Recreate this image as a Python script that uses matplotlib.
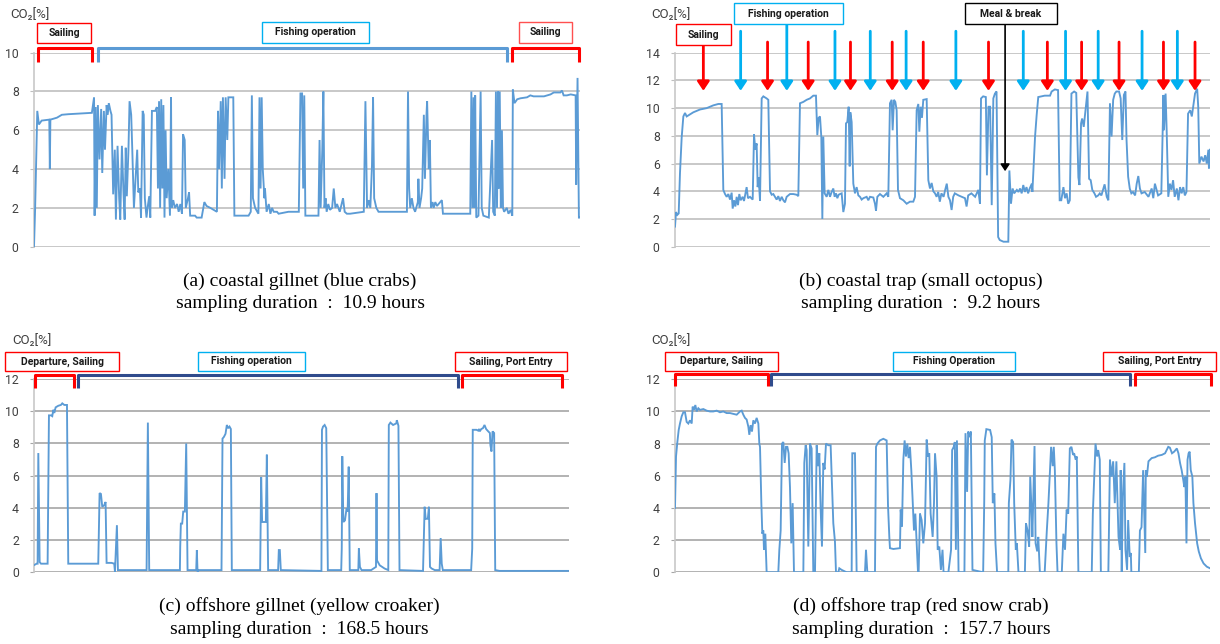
import matplotlib
matplotlib.use("Agg")
import matplotlib.pyplot as plt
from matplotlib.patches import Rectangle

# elapsed time in % of the sampling duration, CO2 in %
a_pts = [(0, 0.0), (0.2, 1.9), (0.6, 7.0), (0.9, 6.3), (1.4, 6.5), (2.8, 6.55), (2.9, 4.0), (3.0, 6.55),
         (4.2, 6.65), (5.1, 6.8), (6.3, 6.83), (10.6, 6.9), (11.0, 7.7), (11.1, 1.6), (11.3, 7.2), (11.5, 2.0),
         (11.7, 7.3), (12.0, 4.5), (12.3, 7.1), (12.5, 3.8), (12.8, 7.0), (13.0, 5.0), (13.3, 7.3), (13.5, 6.8),
         (13.7, 7.4), (14.0, 7.0), (14.2, 6.8), (14.5, 2.7), (14.8, 5.0), (15.0, 1.4), (15.3, 5.2), (15.6, 2.5),
         (15.8, 1.4), (16.1, 5.2), (16.4, 2.7), (16.6, 1.4), (16.8, 5.1), (17.0, 2.6), (17.3, 5.0), (17.5, 7.5),
         (17.8, 6.8), (18.0, 5.0), (18.3, 2.0), (18.5, 3.0), (18.9, 5.0), (19.1, 2.8), (19.4, 3.0), (19.6, 1.5),
         (19.9, 7.0), (20.1, 6.8), (20.3, 2.5), (20.6, 1.5), (20.8, 2.0), (21.1, 2.6), (21.3, 1.5), (21.6, 7.0),
         (22.2, 7.0), (22.5, 7.2), (22.7, 3.0), (22.9, 7.5), (23.1, 2.0), (23.3, 7.6), (23.5, 3.0), (23.7, 7.3),
         (23.9, 1.5), (24.1, 6.0), (24.3, 2.5), (24.6, 4.0), (24.9, 1.6), (25.1, 7.7), (25.2, 2.0), (25.5, 2.4),
         (25.8, 2.0), (26.2, 2.2), (26.5, 1.8), (26.8, 2.2), (27.1, 1.7), (27.3, 5.8), (27.6, 5.5), (27.8, 2.0),
         (28.2, 2.5), (28.4, 2.8), (28.6, 1.6), (29.5, 1.6), (29.8, 1.5), (30.7, 1.5), (31.2, 2.3), (31.6, 2.1),
         (32.3, 2.0), (32.9, 1.9), (33.5, 1.8), (33.7, 7.0), (33.9, 4.0), (34.2, 7.5), (34.4, 3.0), (34.6, 7.7),
         (34.9, 3.5), (35.1, 7.7), (35.4, 5.5), (35.6, 7.7), (36.2, 7.7), (36.5, 7.7), (36.7, 1.6), (39.3, 1.6),
         (39.7, 1.8), (39.9, 7.8), (40.1, 2.5), (40.5, 2.0), (41.1, 1.7), (41.3, 7.7), (41.5, 3.0), (41.7, 7.7),
         (41.9, 4.0), (42.2, 2.5), (42.3, 3.0), (42.6, 1.8), (43.0, 2.2), (43.3, 1.7), (43.6, 2.0), (43.9, 1.8),
         (44.5, 1.8), (44.8, 1.7), (46.6, 1.8), (48.5, 1.8), (48.8, 7.9), (49.1, 7.9), (49.3, 3.0), (49.5, 7.8),
         (49.7, 1.6), (52.1, 1.6), (52.3, 5.5), (52.5, 2.0), (52.8, 5.0), (53.0, 8.0), (53.2, 2.0), (53.4, 2.5),
         (53.6, 1.8), (53.9, 2.2), (54.2, 1.9), (54.6, 2.0), (54.9, 3.0), (55.2, 2.0), (55.5, 2.2), (56.0, 1.8),
         (56.6, 2.5), (56.9, 1.8), (57.3, 1.7), (57.9, 1.7), (60.4, 1.8), (60.7, 7.5), (61.0, 2.0), (61.3, 2.4),
         (61.6, 2.0), (61.9, 4.2), (62.1, 7.7), (62.3, 2.5), (62.7, 2.0), (63.1, 1.8), (68.3, 1.8), (68.5, 8.0),
         (68.7, 3.0), (68.9, 2.0), (69.2, 2.5), (69.5, 2.0), (69.8, 1.8), (70.3, 2.3), (70.4, 3.5), (70.6, 2.0),
         (70.9, 2.5), (71.1, 3.0), (71.4, 6.8), (71.6, 3.5), (71.9, 6.9), (72.0, 7.5), (72.3, 4.0), (72.5, 5.5),
         (72.7, 2.0), (73.0, 2.3), (73.2, 2.0), (73.5, 2.3), (73.8, 2.1), (74.1, 2.2), (74.4, 2.3), (74.7, 2.4),
         (74.9, 1.7), (79.9, 1.7), (80.1, 8.0), (80.3, 2.0), (80.5, 7.7), (80.7, 2.0), (80.8, 7.8), (81.0, 1.5),
         (81.4, 1.6), (81.8, 8.0), (82.0, 2.0), (82.3, 1.6), (83.3, 1.5), (83.9, 5.5), (84.1, 1.8), (84.4, 1.6),
         (84.6, 8.0), (84.8, 2.0), (85.0, 8.0), (85.1, 3.0), (85.3, 8.0), (85.5, 2.0), (85.7, 6.0), (85.9, 2.0),
         (86.1, 1.8), (86.6, 2.0), (86.9, 1.7), (87.3, 1.9), (87.6, 1.6), (87.7, 8.1), (88.0, 7.4), (88.5, 7.6),
         (89.1, 7.65), (90.3, 7.7), (90.9, 7.8), (91.5, 7.75), (93.4, 7.75), (94.6, 7.85), (95.2, 7.95), (96.4, 7.95),
         (96.7, 8.05), (97.0, 7.8), (97.6, 7.8), (98.3, 7.85), (99.2, 7.8), (99.3, 3.2), (99.55, 8.7), (99.8, 1.5),
         (100.0, 1.5)]

b_pts = [(0, 1.45), (0.19, 2.5), (0.44, 2.3), (0.69, 2.4), (0.93, 5.3), (1.25, 7.9), (1.56, 9.4), (1.87, 9.65),
         (2.18, 9.4), (2.8, 9.55), (3.43, 9.7), (4.67, 9.9), (5.92, 10.0), (7.16, 10.2), (8.1, 10.3), (8.72, 10.3),
         (9.03, 4.1), (9.35, 3.8), (9.66, 3.6), (9.97, 3.8), (10.28, 3.4), (10.59, 3.9), (10.78, 2.75), (11.03, 3.35),
         (11.28, 2.9), (11.53, 3.6), (11.77, 3.0), (12.02, 3.8), (12.27, 3.35), (12.65, 3.6), (12.9, 3.3), (13.15, 3.8),
         (13.39, 4.3), (13.64, 3.5), (14.02, 3.6), (14.52, 3.4), (14.77, 8.1), (15.01, 7.0), (15.26, 7.45), (15.45, 4.3),
         (15.64, 5.0), (15.89, 3.3), (16.2, 10.7), (16.51, 10.85), (17.13, 10.7), (17.44, 10.6), (17.76, 4.0),
         (18.07, 3.75), (18.38, 3.8), (18.69, 3.6), (19.0, 3.4), (19.31, 3.65), (19.62, 3.3), (19.94, 3.6),
         (20.25, 3.35), (20.56, 3.2), (20.87, 3.6), (21.49, 3.8), (22.12, 3.8), (22.74, 3.75), (23.05, 3.65),
         (23.36, 10.35), (23.99, 10.45), (24.61, 10.6), (25.23, 10.7), (25.85, 10.9), (26.35, 10.9), (26.6, 8.05),
         (26.85, 9.3), (27.1, 9.4), (27.35, 7.9), (27.54, 2.0), (27.72, 7.95), (27.97, 3.85), (28.35, 3.6),
         (28.66, 4.1), (28.97, 3.6), (29.28, 3.95), (29.59, 4.2), (29.84, 3.6), (30.09, 3.85), (30.34, 3.5),
         (30.59, 3.75), (30.84, 3.8), (31.15, 3.85), (31.46, 2.5), (31.77, 3.1), (31.96, 8.9), (32.21, 9.0),
         (32.46, 10.1), (32.65, 5.8), (32.77, 9.7), (33.02, 9.0), (33.33, 4.55), (33.64, 3.85), (33.95, 4.3),
         (34.27, 3.7), (34.58, 3.6), (34.89, 3.4), (35.2, 3.5), (35.82, 3.6), (36.13, 3.35), (36.45, 3.6),
         (37.07, 3.55), (37.38, 3.1), (37.57, 2.6), (37.82, 3.6), (38.31, 3.8), (38.94, 3.6), (39.56, 3.85),
         (39.87, 3.6), (40.18, 10.35), (40.5, 10.6), (40.68, 8.4), (40.93, 10.6), (41.18, 10.45), (41.43, 9.85),
         (41.68, 4.1), (42.05, 3.5), (42.68, 3.35), (43.3, 3.1), (43.92, 3.25), (44.54, 3.25), (44.86, 3.6),
         (45.17, 9.85), (45.48, 10.3), (45.67, 8.3), (45.92, 10.1), (46.16, 9.3), (46.41, 10.6), (47.04, 10.65),
         (47.35, 4.8), (47.66, 4.2), (47.97, 4.6), (48.28, 4.0), (48.6, 3.85), (48.9, 3.6), (49.2, 3.95), (49.5, 3.25),
         (49.8, 3.85), (50.2, 3.6), (50.5, 4.1), (50.8, 4.55), (51.1, 3.6), (51.4, 3.35), (51.7, 2.65), (52.0, 3.6),
         (52.3, 3.85), (53.0, 3.7), (53.6, 3.6), (54.2, 3.5), (54.5, 2.9), (54.8, 3.7), (55.4, 3.85), (56.1, 3.6),
         (56.7, 4.1), (57.0, 3.1), (57.2, 10.7), (57.6, 10.85), (58.1, 10.8), (58.3, 5.15), (58.6, 10.1), (58.9, 10.1),
         (59.2, 3.0), (59.5, 10.7), (59.8, 11.05), (60.1, 11.2), (60.4, 0.7), (60.7, 0.48), (61.4, 0.36), (62.3, 0.36),
         (62.5, 5.5), (62.8, 3.1), (63.1, 4.2), (63.4, 3.85), (63.9, 4.1), (64.2, 3.95), (64.5, 4.2), (64.8, 3.85),
         (65.1, 4.45), (65.4, 3.95), (65.7, 4.3), (66.0, 3.85), (66.3, 4.2), (66.7, 4.55), (66.8, 3.95), (67.3, 7.95),
         (67.6, 9.5), (67.9, 10.8), (68.5, 10.85), (69.1, 10.9), (70.1, 10.9), (70.4, 11.2), (71.0, 11.35),
         (71.6, 11.3), (71.9, 3.35), (72.2, 3.35), (72.6, 4.3), (72.9, 3.5), (73.2, 3.85), (73.5, 3.1), (73.8, 3.35),
         (74.1, 11.05), (74.6, 11.2), (75.0, 11.1), (75.4, 5.0), (75.6, 4.45), (75.9, 8.9), (76.1, 9.25), (76.4, 8.65),
         (76.6, 9.4), (77.0, 10.95), (77.1, 11.2), (77.4, 4.9), (77.7, 4.8), (78.0, 4.1), (78.4, 3.85), (78.7, 3.6),
         (79.1, 3.7), (79.4, 3.85), (79.7, 3.7), (80.3, 4.5), (80.7, 3.6), (81.0, 3.35), (81.3, 10.35), (81.6, 7.95),
         (81.9, 10.6), (82.2, 11.05), (82.5, 11.2), (83.0, 11.2), (83.3, 10.7), (83.6, 7.7), (83.9, 10.95),
         (84.2, 11.2), (84.4, 7.7), (84.7, 5.05), (85.0, 4.2), (85.3, 3.85), (85.6, 3.95), (86.0, 3.7), (86.3, 4.55),
         (86.6, 5.1), (86.9, 4.2), (87.2, 3.85), (87.8, 3.95), (88.5, 3.6), (89.1, 4.2), (89.4, 3.5), (89.7, 4.55),
         (90.3, 3.7), (90.9, 3.85), (91.3, 10.95), (91.4, 8.4), (91.7, 11.05), (91.9, 8.4), (92.2, 3.6), (92.5, 4.55),
         (92.8, 4.1), (93.1, 4.8), (93.4, 3.6), (93.8, 4.2), (94.1, 3.35), (94.4, 4.3), (94.7, 3.85), (95.0, 4.3),
         (95.3, 3.7), (95.6, 3.95), (95.9, 9.6), (96.3, 9.85), (96.6, 9.4), (96.9, 10.2), (97.2, 11.05), (97.6, 11.4),
         (97.8, 10.1), (98.0, 6.0), (98.4, 6.5), (98.8, 6.15), (99.1, 6.6), (99.4, 6.0), (99.7, 7.0), (99.8, 5.65),
         (100.0, 7.0)]

c_pts = [(0, 0.42), (0.44, 0.5), (0.62, 0.5), (0.75, 7.4), (1.0, 0.6), (1.25, 0.5), (2.49, 0.5), (2.74, 9.75),
         (3.12, 9.75), (3.36, 9.7), (3.55, 10.1), (3.74, 9.9), (3.99, 10.25), (4.49, 10.35), (4.98, 10.4),
         (5.23, 10.5), (5.61, 10.4), (6.11, 10.4), (6.35, 0.5), (11.96, 0.5), (12.21, 4.9), (12.46, 4.85),
         (12.71, 4.05), (13.08, 4.15), (13.33, 4.35), (13.52, 0.55), (14.45, 0.55), (14.95, 0.5), (15.08, 0.0),
         (15.45, 2.9), (15.64, 0.1), (21.0, 0.1), (21.24, 9.3), (21.49, 0.1), (27.23, 0.1), (27.29, 1.55),
         (27.41, 3.0), (27.66, 3.0), (27.85, 3.75), (28.16, 3.75), (28.41, 8.0), (28.66, 0.1), (30.28, 0.1),
         (30.4, 1.35), (30.53, 0.0), (30.78, 0.1), (35.01, 0.1), (35.2, 8.3), (35.45, 8.4), (35.76, 8.6),
         (36.01, 9.15), (36.26, 8.95), (36.51, 9.05), (36.76, 8.9), (36.94, 0.1), (42.24, 0.1), (42.43, 5.9),
         (42.61, 3.1), (43.3, 3.1), (43.49, 7.3), (43.73, 0.1), (45.6, 0.1), (45.73, 1.35), (45.92, 1.35),
         (46.1, 0.1), (53.7, 0.05), (53.8, 8.85), (54.0, 9.05), (54.3, 9.15), (54.6, 8.95), (54.9, 0.1), (57.4, 0.1),
         (57.5, 1.45), (57.6, 7.2), (57.8, 3.1), (58.1, 3.2), (58.4, 3.95), (58.6, 3.75), (58.8, 6.55), (59.0, 0.1),
         (60.6, 0.1), (60.7, 1.45), (60.9, 0.3), (61.2, 0.1), (63.0, 0.1), (63.9, 0.3), (64.0, 4.9), (64.1, 0.7),
         (64.6, 0.4), (65.5, 0.2), (66.2, 0.1), (66.3, 9.15), (66.6, 9.3), (67.1, 9.15), (67.7, 9.25), (67.8, 9.45),
         (68.1, 9.1), (68.3, 0.1), (72.7, 0.05), (73.0, 4.05), (73.2, 3.3), (73.6, 3.3), (73.8, 4.05), (74.0, 0.3),
         (74.3, 0.2), (74.9, 0.1), (75.8, 0.1), (76.0, 2.1), (76.2, 0.5), (76.4, 0.1), (81.7, 0.1), (81.9, 1.45),
         (82.0, 8.85), (82.7, 8.85), (83.0, 8.8), (83.2, 8.9), (83.3, 8.75), (83.6, 8.9), (83.9, 8.95), (84.2, 9.15),
         (84.5, 8.9), (84.9, 8.75), (85.2, 8.65), (85.3, 7.9), (85.5, 7.5), (85.7, 8.75), (86.0, 8.65), (86.2, 0.1),
         (87.0, 0.05), (100.0, 0.05)]

d_pts = [(0, 4.0), (0.19, 7.2), (0.44, 8.1), (0.69, 8.85), (0.93, 9.25), (1.25, 9.7), (1.56, 9.95), (1.87, 9.95),
         (2.18, 9.35), (2.49, 9.25), (2.8, 9.45), (3.12, 9.25), (3.3, 10.3), (3.55, 10.1), (3.8, 10.4), (4.05, 10.0),
         (4.36, 10.2), (4.67, 10.1), (5.3, 10.15), (5.92, 10.05), (6.54, 10.0), (7.16, 10.0), (7.79, 10.05),
         (8.41, 9.95), (9.03, 10.0), (9.66, 9.9), (10.28, 9.9), (10.9, 9.85), (11.53, 9.8), (12.15, 10.0),
         (12.46, 10.05), (12.77, 9.8), (13.08, 9.6), (13.39, 9.5), (13.71, 9.05), (13.89, 8.55), (14.14, 9.15),
         (14.39, 8.75), (14.64, 9.45), (14.95, 9.25), (15.26, 9.6), (15.58, 9.25), (15.76, 8.0), (15.89, 7.8),
         (16.14, 4.3), (16.32, 2.4), (16.51, 2.6), (16.63, 1.4), (16.88, 2.4), (17.13, 0.0), (19.31, 0.0),
         (19.5, 1.4), (19.75, 2.6), (20.0, 8.0), (20.25, 8.1), (20.5, 6.8), (20.75, 7.8), (21.0, 7.8), (21.24, 7.4),
         (21.49, 5.3), (21.74, 1.8), (21.99, 4.3), (22.24, 0.0), (23.99, 0.0), (24.17, 6.8), (24.42, 7.9),
         (24.61, 7.6), (24.92, 1.6), (25.23, 8.0), (25.54, 7.7), (25.85, 0.0), (26.17, 0.0), (26.48, 7.9),
         (26.73, 6.6), (26.98, 7.4), (27.23, 3.9), (27.47, 1.6), (27.72, 6.8), (27.97, 6.4), (28.22, 8.0),
         (28.66, 7.9), (29.09, 7.9), (29.28, 6.0), (29.59, 3.05), (29.9, 1.9), (30.09, 0.0), (30.53, 0.0),
         (30.71, 0.25), (31.15, 0.15), (32.08, 0.0), (33.02, 0.0), (33.14, 7.4), (33.64, 7.4), (33.95, 0.0),
         (35.51, 0.0), (35.7, 1.4), (35.95, 0.0), (37.38, 0.0), (37.57, 7.8), (37.82, 8.0), (38.07, 8.1),
         (38.31, 8.2), (38.94, 8.3), (39.56, 8.2), (39.81, 4.2), (40.06, 2.2), (40.18, 1.5), (40.81, 1.45),
         (42.05, 1.5), (42.18, 3.9), (42.43, 2.85), (42.68, 7.0), (42.92, 8.2), (43.17, 7.2), (43.42, 8.0),
         (43.67, 7.1), (43.92, 7.8), (44.17, 6.35), (44.42, 4.5), (44.67, 2.6), (44.92, 3.65), (45.17, 1.8),
         (45.42, 0.0), (45.54, 0.0), (45.79, 3.65), (46.1, 3.25), (46.41, 1.8), (46.73, 3.05), (47.04, 8.25),
         (47.29, 7.2), (47.53, 7.4), (47.78, 3.65), (48.16, 2.2), (48.41, 4.3), (48.6, 7.4), (48.9, 5.95),
         (49.1, 1.4), (49.4, 1.6), (49.7, 0.15), (50.0, 1.4), (50.2, 0.0), (51.1, 0.0), (51.6, 1.4), (51.8, 7.6),
         (52.1, 7.8), (52.3, 8.1), (52.5, 1.4), (52.7, 8.2), (53.0, 0.0), (54.1, 0.0), (54.3, 8.65), (54.6, 5.0),
         (54.8, 8.75), (55.1, 8.4), (55.3, 8.75), (55.6, 0.15), (57.6, 0.0), (57.8, 4.4), (57.9, 8.2), (58.2, 8.9),
         (58.9, 8.85), (59.2, 8.4), (59.4, 4.3), (59.7, 4.9), (59.9, 1.8), (60.2, 0.0), (62.3, 0.0), (62.4, 4.3),
         (62.7, 5.75), (62.9, 8.25), (63.2, 8.1), (63.4, 4.3), (63.7, 1.4), (63.9, 1.8), (64.2, 0.0), (65.4, 0.0),
         (65.6, 3.05), (65.9, 2.6), (66.2, 1.6), (66.4, 5.95), (66.7, 3.35), (66.8, 2.2), (67.2, 7.85), (67.4, 1.8),
         (67.7, 1.3), (67.9, 2.2), (68.2, 0.0), (69.1, 0.0), (69.5, 2.6), (69.8, 4.3), (70.1, 6.35), (70.3, 7.8),
         (70.6, 6.6), (70.8, 7.8), (71.0, 6.35), (71.3, 1.8), (71.5, 0.0), (72.3, 0.0), (72.6, 2.4), (72.9, 1.4),
         (73.2, 3.9), (73.5, 3.65), (73.8, 7.7), (74.1, 7.8), (74.4, 7.3), (74.6, 7.4), (74.9, 7.0), (75.1, 7.2),
         (75.4, 0.0), (77.9, 0.0), (78.1, 3.65), (78.4, 6.35), (78.6, 8.0), (78.9, 7.2), (79.1, 7.6), (79.4, 7.0),
         (79.6, 0.0), (81.0, 0.0), (81.3, 7.0), (81.6, 5.95), (81.9, 6.9), (82.2, 4.3), (82.5, 6.9), (82.9, 2.2),
         (83.2, 1.4), (83.3, 6.35), (83.5, 0.0), (83.7, 4.7), (84.0, 6.8), (84.2, 1.4), (84.5, 0.15), (84.7, 3.25),
         (85.0, 0.95), (85.2, 1.2), (85.3, 0.0), (86.7, 0.0), (86.9, 2.6), (87.2, 2.8), (87.5, 6.35), (87.9, 1.2),
         (88.0, 6.35), (88.2, 5.95), (88.5, 6.9), (89.1, 7.1), (89.7, 7.15), (90.3, 7.25), (91.0, 7.3), (91.6, 7.4),
         (92.2, 7.8), (92.5, 7.75), (92.9, 7.4), (93.3, 7.5), (93.8, 7.7), (94.1, 7.4), (94.4, 6.8), (94.7, 6.35),
         (95.0, 5.75), (95.2, 5.3), (95.4, 5.95), (95.6, 1.8), (95.8, 7.0), (96.0, 7.4), (96.2, 7.5), (96.4, 6.35),
         (96.7, 5.95), (96.9, 4.3), (97.2, 3.05), (97.6, 1.8), (97.9, 1.3), (98.3, 0.87), (98.8, 0.55), (99.4, 0.35),
         (100.0, 0.25)]

# arrows of panel (b): haul (red) / shoot (blue) positions
b_red_arrows = [5.3, 17.3, 24.9, 32.8, 40.6, 46.4, 58.6, 69.6, 76.0, 83.0, 91.3, 97.2]
b_blue_arrows = [12.27, 20.9, 29.9, 36.5, 43.2, 52.5, 65.1, 73.0, 79.1, 87.3, 93.9]
b_meal_arrow = 61.7

captions = [
    ("(a) coastal gillnet (blue crabs)", "sampling duration  :  10.9 hours"),
    ("(b) coastal trap (small octopus)", "sampling duration  :  9.2 hours"),
    ("(c) offshore gillnet (yellow croaker)", "sampling duration  :  168.5 hours"),
    ("(d) offshore trap (red snow crab)", "sampling duration  :  157.7 hours"),
]

W, H = 1220, 644
LINE = "#5B9BD5"
RED = "#FF0000"
CYAN = "#00B0F0"
NAVY = "#2F4B8C"
SANS = ["Roboto", "DejaVu Sans"]

fig = plt.figure(figsize=(W / 100, H / 100), dpi=100)


def panel(x0, x1, yb, yt, ymax, pts, grid_col):
    ax = fig.add_axes([x0 / W, 1 - yb / H, (x1 - x0) / W, (yb - yt) / H])
    t, v = zip(*pts)
    ax.plot(t, v, color=LINE, lw=1.35, solid_joinstyle="miter", zorder=3)
    ax.set_xlim(0, 100)
    ax.set_ylim(0, ymax)
    ax.set_yticks(range(0, ymax + 1, 2))
    ax.set_xticks([])
    ax.yaxis.grid(True, color=grid_col, lw=1.2)
    ax.set_axisbelow(True)
    for s in ["top", "right", "bottom"]:
        ax.spines[s].set_visible(False)
    ax.spines["left"].set_color("#C8C8C8")
    ax.spines["left"].set_linewidth(1.2)
    ax.tick_params(axis="y", length=3, color=grid_col, pad=8, labelsize=8.8, labelcolor="#404040")
    for lab in ax.get_yticklabels():
        lab.set_family(SANS)
    return ax


def bracket(ax, x0, x1, top, bottom, color, lw=2.2):
    ax.plot([x0, x0, x1, x1], [bottom, top, top, bottom], color=color, lw=lw,
            solid_joinstyle="round", solid_capstyle="butt", clip_on=False, zorder=4)


def box(ax, x0, x1, y0, y1, text, edge):
    ax.add_patch(Rectangle((x0, y0), x1 - x0, y1 - y0, fill=True, fc="white", ec=edge, lw=1.0,
                           clip_on=False, zorder=5))
    ax.text((x0 + x1) / 2, (y0 + y1) / 2, text, ha="center", va="center", fontsize=7.5,
            fontweight="bold", family=SANS, color="#1a1a1a", clip_on=False, zorder=6)


def arrow(ax, x, top, tip, color, lw=2.0, ms=12):
    ax.annotate("", xy=(x, tip), xytext=(x, top), annotation_clip=False,
                arrowprops=dict(arrowstyle="-|>,head_length=0.45,head_width=0.3", color=color,
                                lw=lw, mutation_scale=ms, shrinkA=0, shrinkB=0))


# (a)
ax_a = panel(34, 580, 246.7, 52.7, 10, a_pts, "#BFBFBF")
bracket(ax_a, 0.7, 10.7, 10.23, 9.53, RED)
bracket(ax_a, 11.7, 86.6, 10.23, 9.53, LINE)
bracket(ax_a, 87.5, 99.8, 10.23, 9.53, RED)
box(ax_a, 0.5, 10.5, 10.5, 11.55, "Sailing", RED)
box(ax_a, 41.8, 61.4, 10.5, 11.6, "Fishing operation", CYAN)
box(ax_a, 88.8, 98.5, 10.5, 11.6, "Sailing", "#FF5050")

# (b)
ax_b = panel(675, 1210, 246.7, 52.7, 14, b_pts, "#BFBFBF")
for i, x in enumerate(b_red_arrows):
    arrow(ax_b, x, 14.55 if i == 0 else 14.77, 11.25, RED)
for i, x in enumerate(b_blue_arrows):
    arrow(ax_b, x, 16.07 if i == 1 else 15.55, 11.25, CYAN)
arrow(ax_b, b_meal_arrow, 16.07, 5.45, "black", lw=1.2, ms=9)
box(ax_b, 0.2, 10.5, 14.55, 16.05, "Sailing", RED)
box(ax_b, 11.0, 31.4, 16.07, 17.56, "Fishing operation", CYAN)
box(ax_b, 54.2, 71.4, 16.07, 17.56, "Meal & break", "black")

# (c)
ax_c = panel(34.3, 569, 571.7, 379.3, 12, c_pts, "#A6A6A6")
bracket(ax_c, 0.1, 7.5, 12.27, 11.46, RED)
bracket(ax_c, 8.1, 79.2, 12.27, 11.46, NAVY)
bracket(ax_c, 80.0, 98.6, 12.27, 11.46, RED)
box(ax_c, -5.4, 15.9, 12.52, 13.72, "Departure, Sailing", RED)
box(ax_c, 30.6, 50.7, 12.52, 13.72, "Fishing operation", CYAN)
box(ax_c, 78.6, 99.6, 12.52, 13.72, "Sailing, Port Entry", RED)

# (d)
ax_d = panel(675, 1210, 572.3, 379.3, 12, d_pts, "#A6A6A6")
bracket(ax_d, 0.0, 17.3, 12.33, 11.6, RED)
bracket(ax_d, 17.9, 85.0, 12.33, 11.6, NAVY)
bracket(ax_d, 85.9, 100.1, 12.33, 11.6, RED)
box(ax_d, -1.8, 19.3, 12.52, 13.72, "Departure, Sailing", RED)
box(ax_d, 40.7, 63.6, 12.52, 13.72, "Fishing Operation", CYAN)
box(ax_d, 80.0, 101.2, 12.52, 13.72, "Sailing, Port Entry", RED)

# y-axis titles
for (x, y) in [(10, 14), (651, 14), (12, 340), (651, 340)]:
    fig.text(x / W, 1 - y / H, "CO\u2082[%]", ha="left", va="center", fontsize=9.5,
             family=SANS, color="#404040")

# captions
for (cx, y1), (l1, l2) in zip([(300, 281), (921, 281), (299, 606), (921, 606)], captions):
    fig.text(cx / W, 1 - y1 / H, l1, ha="center", va="center", fontsize=14, family="Liberation Serif")
    fig.text(cx / W, 1 - (y1 + 23) / H, l2, ha="center", va="center", fontsize=14, family="Liberation Serif")

fig.savefig("out.png", dpi=100)
